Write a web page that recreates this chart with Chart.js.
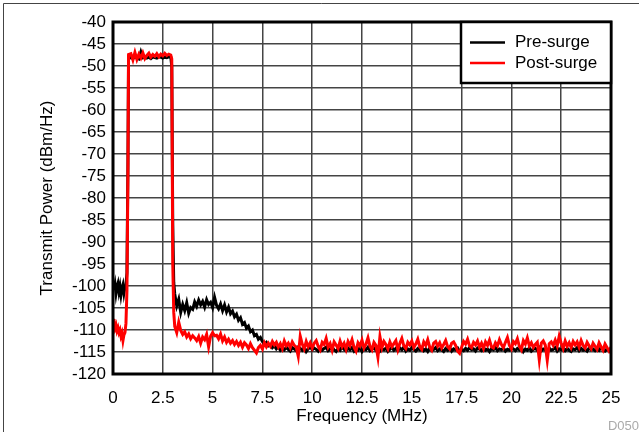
<!DOCTYPE html>
<html lang="en">
<head>
  <meta charset="UTF-8" />
  <title>Transmit Power</title>
  <script src="https://cdn.jsdelivr.net/npm/chart.js"></script>
  <style>
    html, body { margin: 0; padding: 0; background: #fff; }
  </style>
</head>
<body>
<canvas id="grafik" width="639" height="432"></canvas>
<script>
  // Frekans ekseni (MHz)
  const freqMHz = [
    0, 0.05, 0.1, 0.15, 0.2, 0.25, 0.3, 0.35, 0.4, 0.45, 0.5, 0.55, 0.6,
    0.65, 0.7, 0.75, 0.78,
    0.9, 1.0, 1.1, 1.2, 1.3, 1.4, 1.5, 1.6, 1.7, 1.8, 1.9, 2.0, 2.1, 2.2, 2.3, 2.4, 2.5, 2.6, 2.7, 2.8, 2.9,
    2.95, 3.0, 3.05, 3.1,
    3.2, 3.3, 3.4, 3.5, 3.6, 3.7, 3.8, 3.9, 4.0, 4.1,
    4.2, 4.3, 4.4, 4.5, 4.6, 4.7, 4.8, 4.9, 5.0, 5.1,
    5.2, 5.3, 5.4, 5.5, 5.6, 5.7, 5.8, 5.9, 6.0, 6.1,
    6.2, 6.3, 6.4, 6.5, 6.6, 6.7, 6.8, 6.9, 7.0, 7.1,
    7.2, 7.3, 7.4, 7.5, 7.6, 7.7, 7.8, 7.9, 8.0, 8.1,
    8.2, 8.3, 8.4, 8.5, 8.6, 8.7, 8.8, 8.9, 9.0, 9.1,
    9.2, 9.3, 9.4, 9.5, 9.6, 9.7, 9.8, 9.9, 10.0, 10.1,
    10.2, 10.3, 10.4, 10.5, 10.6, 10.7, 10.8, 10.9, 11.0, 11.1,
    11.2, 11.3, 11.4, 11.5, 11.6, 11.7, 11.8, 11.9, 12.0, 12.1,
    12.2, 12.3, 12.4, 12.5, 12.6, 12.7, 12.8, 12.9, 13.0, 13.1,
    13.2, 13.3, 13.4, 13.5, 13.6, 13.7, 13.8, 13.9, 14.0, 14.1,
    14.2, 14.3, 14.4, 14.5, 14.6, 14.7, 14.8, 14.9, 15.0, 15.1,
    15.2, 15.3, 15.4, 15.5, 15.6, 15.7, 15.8, 15.9, 16.0, 16.1,
    16.2, 16.3, 16.4, 16.5, 16.6, 16.7, 16.8, 16.9, 17.0, 17.1,
    17.2, 17.3, 17.4, 17.5, 17.6, 17.7, 17.8, 17.9, 18.0, 18.1,
    18.2, 18.3, 18.4, 18.5, 18.6, 18.7, 18.8, 18.9, 19.0, 19.1,
    19.2, 19.3, 19.4, 19.5, 19.6, 19.7, 19.8, 19.9, 20.0, 20.1,
    20.2, 20.3, 20.4, 20.5, 20.6, 20.7, 20.8, 20.9, 21.0, 21.1,
    21.2, 21.3, 21.4, 21.5, 21.6, 21.7, 21.8, 21.9, 22.0, 22.1,
    22.2, 22.3, 22.4, 22.5, 22.6, 22.7, 22.8, 22.9, 23.0, 23.1,
    23.2, 23.3, 23.4, 23.5, 23.6, 23.7, 23.8, 23.9, 24.0, 24.1,
    24.2, 24.3, 24.4, 24.5, 24.6, 24.7, 24.8, 24.9, 25.0
  ];

  // Pre-surge (siyah) dBm/Hz
  const preSurge = [
    -99.0, -100.8, -99.6, -101.7, -100.2, -99.4, -101.3, -100.1, -102.0, -100.5, -99.7, -101.6, -100.3,
    -99.8, -97.0, -72.0, -48.3,
    -48.1, -48.3, -47.9, -48.2, -48.4, -46.8, -48.1, -47.9, -48.2, -48.0, -48.3, -47.9, -48.1, -48.2, -47.9, -48.0, -48.2, -48.0, -48.1, -47.9, -48.0,
    -50.0, -86.0, -99.2, -101.8,
    -104.5, -103.0, -106.0, -104.2, -105.6, -103.8, -106.2, -104.9, -105.3, -103.6,
    -104.6, -103.2, -104.3, -103.5, -104.8, -103.1, -104.2, -103.7, -104.9, -102.6,
    -104.4, -105.2, -104.1, -105.6, -104.3, -105.9, -104.8, -106.3, -105.7, -107.0,
    -106.4, -107.8, -107.2, -108.7, -108.3, -109.6, -109.1, -110.4, -110.0, -111.3,
    -111.0, -112.1, -111.7, -112.6, -113.2, -112.8, -113.6, -113.3, -114.0, -113.6,
    -114.3, -113.8, -114.6, -114.1, -114.5, -113.9, -114.4, -114.8, -114.0, -114.3,
    -114.7, -113.9, -114.2, -114.6, -114.0, -114.9, -114.3, -113.8, -114.5, -114.1,
    -114.4, -114.8, -114.0, -114.6, -114.2, -113.9, -114.7, -114.3, -114.0, -114.5,
    -114.9, -114.2, -114.6, -113.8, -114.4, -114.7, -114.1, -114.5, -114.0, -114.8,
    -114.3, -114.6, -114.0, -114.9, -114.2, -114.5, -113.9, -114.7, -114.3, -114.1,
    -114.6, -114.0, -114.8, -114.3, -114.5, -114.1, -114.9, -114.4, -114.0, -114.6,
    -114.2, -114.7, -114.1, -114.5, -113.9, -114.8, -114.3, -114.6, -114.0, -114.4,
    -114.8, -114.2, -114.5, -114.0, -114.7, -114.3, -114.9, -114.1, -114.6, -114.4,
    -114.0, -114.7, -114.3, -114.5, -114.9, -114.2, -114.6, -114.0, -114.8, -114.3,
    -114.5, -114.1, -114.9, -114.4, -114.7, -114.2, -114.6, -114.0, -114.5, -114.3,
    -114.8, -114.1, -114.4, -114.7, -114.0, -114.6, -114.3, -114.9, -114.2, -114.5,
    -114.0, -114.7, -114.3, -114.5, -114.1, -114.8, -114.4, -114.6, -114.0, -114.3,
    -114.7, -114.2, -114.5, -114.0, -114.9, -114.3, -114.6, -114.1, -114.8, -114.4,
    -114.2, -114.6, -114.0, -114.7, -114.3, -114.5, -114.9, -114.1, -114.6, -114.4,
    -114.0, -114.8, -114.3, -114.5, -114.1, -114.7, -114.2, -114.6, -114.9, -114.3,
    -114.5, -114.0, -114.7, -114.2, -114.6, -114.4, -114.8, -114.1, -114.5, -114.3,
    -114.7, -114.2, -114.6, -114.0, -114.5, -114.8, -114.3, -114.6, -114.9
  ];

  // Post-surge (kırmızı) dBm/Hz
  const postSurge = [
    -107.5, -108.3, -109.6, -108.9, -110.2, -109.5, -110.6, -110.0, -111.4, -110.7, -112.4, -111.1, -110.6,
    -108.5, -101.0, -74.0, -47.4,
    -47.2, -48.6, -46.9, -48.5, -47.3, -48.2, -47.0, -48.3, -47.6, -47.1, -48.0, -47.4, -47.8, -47.2, -47.9, -47.3, -47.7, -47.1, -47.6, -47.3, -47.5,
    -48.4, -95.0, -106.0, -109.2,
    -110.6, -108.2, -110.1, -111.0, -110.4, -111.6, -110.9, -112.0, -111.3, -111.8,
    -112.4, -111.5, -113.0, -111.6, -112.2, -111.0, -113.8, -111.4, -110.6, -111.3,
    -111.2, -112.0, -110.9, -112.5, -111.6, -112.8, -112.1, -113.0, -112.4, -113.3,
    -112.6, -113.5, -112.8, -113.9, -112.9, -113.4, -114.2, -113.1, -114.0, -114.6,
    -115.2, -114.0, -113.5, -114.3, -112.9, -113.8, -113.0, -113.7, -112.6, -113.4,
    -112.8, -113.9, -113.1, -114.2, -112.5, -113.6, -113.0, -114.0, -112.7, -113.5,
    -113.9, -116.0, -111.4, -113.2, -114.3, -112.6, -113.8, -112.9, -114.1, -113.0,
    -112.4, -113.7, -114.5, -112.8, -113.3, -111.9, -113.9, -113.1, -114.6, -112.7,
    -113.4, -114.2, -112.5, -113.8, -113.0, -114.4, -112.6, -113.5, -112.2, -113.9,
    -114.8, -112.9, -113.6, -112.3, -114.1, -113.2, -111.8, -113.7, -114.5, -112.8,
    -113.5, -116.2, -111.5, -114.0, -112.6, -113.3, -114.3, -112.7, -113.8, -113.1,
    -112.4, -114.5, -113.0, -111.9, -113.6, -114.2, -112.8, -113.4, -112.5, -114.0,
    -113.2, -112.1, -113.8, -114.4, -112.7, -113.5, -112.2, -113.9, -114.6, -113.0,
    -112.6, -113.7, -112.9, -114.1, -113.3, -112.4, -113.8, -114.3, -113.0, -112.7,
    -113.5, -114.8, -115.3, -113.9, -112.6, -113.2, -112.1, -113.6, -114.0, -112.8,
    -113.4, -112.5, -113.9, -113.0, -114.2, -112.7, -113.5, -112.3, -113.8, -114.1,
    -112.9, -113.6, -112.2, -113.3, -114.0, -112.8, -111.7, -113.5, -114.3, -112.6,
    -113.1, -112.0, -113.7, -114.5, -112.4, -113.2, -111.8, -113.6, -112.9, -114.0,
    -113.3, -112.8, -116.8, -113.0, -112.5, -113.4, -116.9, -113.1, -112.7, -113.5,
    -112.3, -113.6, -111.4, -113.0, -114.2, -112.5, -113.7, -112.9, -114.0, -112.6,
    -113.4, -112.7, -113.9, -112.4, -113.5, -114.1, -112.8, -113.6, -114.3, -113.0,
    -113.7, -114.4, -112.9, -113.8, -114.6, -113.2, -114.0, -114.8, -113.9
  ];

  // Eksen etiketleri
  const xTicks = [0, 2.5, 5, 7.5, 10, 12.5, 15, 17.5, 20, 22.5, 25];
  const yTicks = [-120, -115, -110, -105, -100, -95, -90, -85, -80, -75, -70, -65, -60, -55, -50, -45, -40];

  if (preSurge.length !== freqMHz.length || postSurge.length !== freqMHz.length) {
    console.error('uzunluk hatası', freqMHz.length, preSurge.length, postSurge.length);
  }

  const FONT = "'Liberation Sans', Arial, Helvetica, sans-serif";

  // Çerçeve, lejant ve köşe etiketi
  const cerceve = {
    id: 'cerceve',
    beforeDraw(chart) {
      const ctx = chart.ctx;
      ctx.save();
      ctx.fillStyle = '#fff';
      ctx.fillRect(0, 0, chart.width, chart.height);
      ctx.strokeStyle = '#444';
      ctx.lineWidth = 1;
      ctx.beginPath();
      ctx.moveTo(3.5, chart.height);
      ctx.lineTo(3.5, 3.5);
      ctx.lineTo(chart.width, 3.5);
      ctx.stroke();
      ctx.restore();
    },
    afterDraw(chart) {
      const ctx = chart.ctx;
      const a = chart.chartArea;
      ctx.save();
      ctx.strokeStyle = '#000';
      ctx.lineWidth = 3;
      ctx.strokeRect(a.left, a.top, a.right - a.left, a.bottom - a.top);

      // lejant kutusu
      const bx = 461, by = a.top, bw = a.right - bx, bh = 61;
      ctx.fillStyle = '#fff';
      ctx.fillRect(bx, by, bw, bh);
      ctx.lineWidth = 2.5;
      ctx.strokeRect(bx, by, bw, bh);

      const satirlar = [chart.data.datasets[0], chart.data.datasets[1]];
      ctx.font = '17px ' + FONT;
      ctx.textBaseline = 'middle';
      ctx.textAlign = 'left';
      satirlar.forEach((ds, i) => {
        const y = by + 20.5 + i * 20.5;
        ctx.strokeStyle = ds.borderColor;
        ctx.lineWidth = 2.5;
        ctx.beginPath();
        ctx.moveTo(470, y);
        ctx.lineTo(505, y);
        ctx.stroke();
        ctx.fillStyle = '#000';
        ctx.fillText(ds.label, 515, y);
      });

      ctx.font = '13px ' + FONT;
      ctx.fillStyle = '#aaa';
      ctx.textAlign = 'right';
      ctx.fillText('D050', 639, 426.5);
      ctx.restore();
    }
  };

  const ctx = document.getElementById('grafik').getContext('2d');
  const grafik = new Chart(ctx, {
    type: 'line',
    data: {
      datasets: [
        {
          label: 'Pre-surge',
          data: freqMHz.map((f, i) => ({ x: f, y: preSurge[i] })),
          borderColor: '#000000',
          borderWidth: 3,
          pointRadius: 0,
          tension: 0,
          order: 2
        },
        {
          label: 'Post-surge',
          data: freqMHz.map((f, i) => ({ x: f, y: postSurge[i] })),
          borderColor: '#ff0000',
          borderWidth: 3,
          pointRadius: 0,
          tension: 0,
          order: 1
        }
      ]
    },
    options: {
      responsive: false,
      animation: false,
      layout: { padding: { left: 0, top: 22, right: 28, bottom: 0 } },
      plugins: {
        legend: { display: false },
        tooltip: { enabled: false }
      },
      scales: {
        x: {
          type: 'linear',
          min: 0,
          max: 25,
          afterFit: s => { s.height = 58; },
          afterBuildTicks: s => { s.ticks = xTicks.map(v => ({ value: v })); },
          grid: { color: '#444', lineWidth: 1.5, drawTicks: false },
          border: { display: false },
          ticks: { color: '#000', font: { family: FONT, size: 17 }, padding: 14, maxRotation: 0, autoSkip: false },
          title: {
            display: true,
            text: 'Frequency (MHz)',
            color: '#000',
            font: { family: FONT, size: 17 },
            padding: { top: 0, bottom: 5 }
          }
        },
        y: {
          min: -120,
          max: -40,
          afterFit: s => { s.width = 113; },
          afterBuildTicks: s => { s.ticks = yTicks.map(v => ({ value: v })); },
          grid: { color: '#444', lineWidth: 1.5, drawTicks: false },
          border: { display: false },
          ticks: { color: '#000', font: { family: FONT, size: 17 }, padding: 7, autoSkip: false },
          title: {
            display: true,
            text: 'Transmit Power (dBm/Hz)',
            color: '#000',
            font: { family: FONT, size: 17 },
            padding: { top: 37, bottom: 0 }
          }
        }
      }
    },
    plugins: [cerceve]
  });
</script>
</body>
</html>
